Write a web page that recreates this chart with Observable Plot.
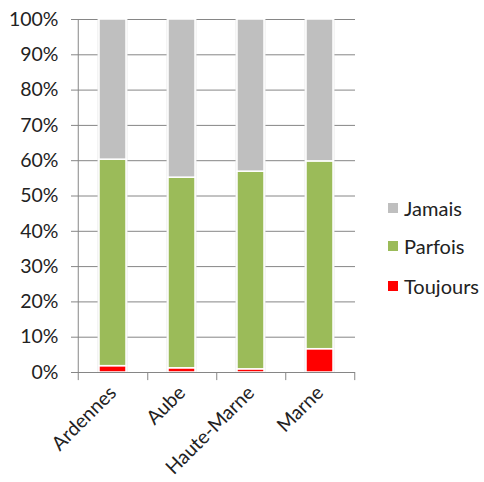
<!DOCTYPE html>
<html>
<head>
<meta charset="utf-8">
<script src="https://cdn.jsdelivr.net/npm/d3@7"></script>
<script src="https://cdn.jsdelivr.net/npm/@observablehq/plot@0.6"></script>
<style>
  body { margin: 0; background: #fff; }
  #wrap { position: relative; width: 484px; height: 482px; font-family: Lato, "Open Sans", sans-serif; }
  .legend { position: absolute; left: 388px; font-size: 20px; color: #222; display: flex; align-items: center; line-height: 22px; }
  .legend span.sw { display: inline-block; width: 10px; height: 10px; margin-right: 6px; }
</style>
</head>
<body>
<div id="wrap"></div>
<script>
const categories = ["Ardennes", "Aube", "Haute-Marne", "Marne"];
const series = ["Toujours", "Parfois", "Jamais"];
const toujours = [1.8, 1.2, 0.9, 6.6];
const parfois = [58.5, 54.0, 56.0, 53.2];
const jamais = [39.7, 44.8, 43.1, 40.2];
const colors = ["#FF0000", "#9BBB59", "#BFBFBF"];
const yTicks = [0, 10, 20, 30, 40, 50, 60, 70, 80, 90, 100];

const rows = [];
categories.forEach((c, i) => {
  rows.push({cat: c, serie: "Toujours", value: toujours[i]});
  rows.push({cat: c, serie: "Parfois", value: parfois[i]});
  rows.push({cat: c, serie: "Jamais", value: jamais[i]});
});

const bandW = 69.5;
const gridColor = "#868686";

const chart = Plot.plot({
  width: 484,
  height: 482,
  marginLeft: 77,
  marginRight: 129,
  marginTop: 19,
  marginBottom: 110,
  style: {fontFamily: "Lato, 'Open Sans', sans-serif", fontSize: "19px", color: "#222", background: "#fff"},
  x: {domain: categories, padding: 0, label: null},
  y: {domain: [0, 100], label: null},
  color: {domain: series, range: colors},
  marks: [
    Plot.ruleY(yTicks, {stroke: gridColor, strokeWidth: 1}),
    Plot.barY(categories, {x: d => d, y1: 0, y2: 100, fill: "#e9e9e9", insetLeft: 19.5, insetRight: 19.5}),
    Plot.barY(rows, Plot.stackY({order: series}, {x: "cat", y: "value", fill: "serie", stroke: "#fff", strokeWidth: 1.5, insetLeft: 21, insetRight: 21})),
    Plot.ruleX([0], {x: () => categories[0], dx: -bandW / 2, y1: -2.3, y2: 100, stroke: gridColor}),
    Plot.ruleY([0], {stroke: gridColor}),
    Plot.ruleX(categories, {x: d => d, dx: bandW / 2, y1: 0, y2: -2.3, stroke: gridColor}),
    Plot.axisY(yTicks, {tickSize: 6, tickPadding: 13, tickFormat: d => d + "%", stroke: gridColor, fill: "#222", fontSize: 19.5}),
    Plot.axisX({tickSize: 0, tickPadding: 17, tickRotate: -45, fill: "#222", fontSize: 19.5})
  ]
});

const wrap = document.getElementById("wrap");
wrap.appendChild(chart);

const legendItems = [
  {label: "Jamais", color: "#BFBFBF", top: 197},
  {label: "Parfois", color: "#9BBB59", top: 235},
  {label: "Toujours", color: "#FF0000", top: 275}
];
legendItems.forEach(it => {
  const d = document.createElement("div");
  d.className = "legend";
  d.style.top = it.top + "px";
  const sw = document.createElement("span");
  sw.className = "sw";
  sw.style.background = it.color;
  d.appendChild(sw);
  const t = document.createElement("span");
  t.textContent = it.label;
  d.appendChild(t);
  wrap.appendChild(d);
});
</script>
</body>
</html>
